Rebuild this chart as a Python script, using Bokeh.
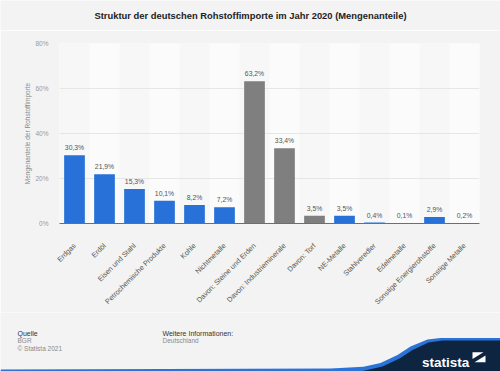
import math
from bokeh.plotting import figure
from bokeh.layouts import column
from bokeh.models import (FixedTicker, PrintfTickFormatter, FactorRange, Range1d,
                          ColumnDataSource)
from bokeh.transform import factor_cmap
from bokeh.core.properties import value
from bokeh.embed import file_html
from bokeh.resources import INLINE

# ---- data ----
categories = ["Erdgas", "Erdöl", "Eisen und Stahl", "Petrochemische Produkte", "Kohle",
              "Nichtmetalle", "Davon: Steine und Erden", "Davon: Industrieminerale",
              "Davon: Torf", "NE-Metalle", "Stahlveredler", "Edelmetalle",
              "Sonstige Energierohstoffe", "Sonstige Metalle"]
shares = [30.3, 21.9, 15.3, 10.1, 8.2, 7.2, 63.2, 33.4, 3.5, 3.5, 0.4, 0.1, 2.9, 0.2]
groups = ["main", "main", "main", "main", "main", "main", "sub", "sub", "sub",
          "main", "main", "main", "main", "main"]
y_ticks = [0, 20, 40, 60, 80]

title_text = "Struktur der deutschen Rohstoffimporte im Jahr 2020 (Mengenanteile)"
y_label = "Mengenanteile der Rohstoffimporte"
source_head = "Quelle"
source_lines = ["BGR", "© Statista 2021"]
info_head = "Weitere Informationen:"
info_lines = ["Deutschland"]

FONT = "Liberation Sans"
BG = "#f3f3f3"
BLUE = "#2771d8"
GREY = "#7f7f7f"
NAVY = "#0d2541"
LOGO_BLUE = "#2a73d9"

W = 500
H_HEAD, H_MAIN, H_FOOT = 30, 282, 59


def deco_figure(h, y0):
    f = figure(width=W, height=h, x_range=Range1d(0, W), y_range=Range1d(y0 + h, y0),
               output_backend="svg", toolbar_location=None,
               x_axis_type=None, y_axis_type=None,
               min_border=0, min_border_left=0, min_border_right=0,
               min_border_top=0, min_border_bottom=0)
    f.frame_align = False
    f.background_fill_color = BG
    f.border_fill_color = BG
    f.outline_line_color = None
    f.xgrid.visible = False
    f.ygrid.visible = False
    return f


# ---- header ----
head = deco_figure(H_HEAD, 0)
head.text(x=[250], y=[15], text=[title_text], text_align="center",
          text_baseline="middle", text_font=value(FONT), text_font_size="9.4px",
          text_font_style="bold", text_color="#222222")

# ---- main chart ----
labels = [("%.1f" % v).replace(".", ",") + "%" for v in shares]
src = ColumnDataSource(dict(cat=categories, val=shares, grp=groups, lab=labels))

p = figure(x_range=FactorRange(*categories), y_range=Range1d(0, 80),
           width=W, height=H_MAIN, output_backend="svg", toolbar_location=None,
           min_border_left=59, min_border_right=21, min_border_top=13,
           min_border_bottom=80)
p.frame_align = False
p.background_fill_color = "#f7f7f7"
p.border_fill_color = BG
p.outline_line_color = None
p.x_range.range_padding = 0

band_cats = categories[1::2]
band_src = ColumnDataSource(dict(cat=band_cats, top=[80] * len(band_cats)))
p.vbar(x="cat", top="top", width=1.0, source=band_src, fill_color="#fbfbfb",
       line_color=None, level="underlay")

p.vbar(x="cat", top="val", width=0.69, source=src, line_color=None,
       fill_color=factor_cmap("grp", palette=[BLUE, GREY], factors=["main", "sub"]))

p.text(x="cat", y="val", text="lab", source=src, text_align="center",
       text_baseline="bottom", y_offset=-4, text_font=value(FONT),
       text_font_size="6.8px", text_color="#555555")

p.xgrid.grid_line_color = None
p.ygrid.grid_line_color = "#e6e6e6"
p.ygrid.grid_line_width = 1
p.ygrid.ticker = FixedTicker(ticks=y_ticks)

ya = p.yaxis[0]
ya.ticker = FixedTicker(ticks=y_ticks)
ya.formatter = PrintfTickFormatter(format="%d%%")
ya.axis_line_color = None
ya.major_tick_line_color = None
ya.minor_tick_line_color = None
ya.major_tick_out = 0
ya.major_tick_in = 0
ya.minor_tick_out = 0
ya.major_label_text_font = FONT
ya.major_label_text_font_size = "6.5px"
ya.major_label_text_color = "#9a9a9a"
ya.major_label_standoff = 11
ya.axis_label = y_label
ya.axis_label_text_font = FONT
ya.axis_label_text_font_size = "6.5px"
ya.axis_label_text_font_style = "normal"
ya.axis_label_text_color = "#8a8a8a"
ya.axis_label_standoff = 1

xa = p.xaxis[0]
xa.axis_line_color = "#6e6e6e"
xa.axis_line_width = 1
xa.major_tick_line_color = None
xa.minor_tick_line_color = None
xa.major_tick_out = 0
xa.major_tick_in = 0
xa.minor_tick_out = 0
xa.major_label_orientation = math.pi / 4
xa.major_label_text_font = FONT
xa.major_label_text_font_size = "7.2px"
xa.major_label_text_color = "#555555"
xa.major_label_standoff = 21

# ---- footer ----
y0 = H_HEAD + H_MAIN
foot = deco_figure(H_FOOT, y0)
foot.text(x=[17, 162], y=[332.7, 332.7], text=[source_head, info_head],
          text_baseline="middle", text_font=value(FONT), text_font_size="7px",
          text_color="#333333")
foot.text(x=[17] * len(source_lines) + [162] * len(info_lines),
          y=[339.6, 347.7][:len(source_lines)] + [339.6][:len(info_lines)],
          text=source_lines + info_lines, text_baseline="middle",
          text_font=value(FONT), text_font_size="6.5px", text_color="#8a8a8a")

# statista logo band
foot.patch(x=[0, 330, 363, 380, 397, 410, 427, 440, W, W, 0],
           y=[369, 368, 366.3, 362.5, 354.5, 346, 339, 337.5, 337.5, 371, 371],
           fill_color=LOGO_BLUE, line_color=None)
foot.patch(x=[360, 382, 399, 412, 428, 442, W, W],
           y=[371, 366, 358, 349.5, 342, 340, 340, 371],
           fill_color=NAVY, line_color=None)
foot.text(x=[421.5], y=[361.7], text=["statista"], text_baseline="alphabetic",
          text_font=value(FONT), text_font_size="13.5px", text_font_style="bold",
          text_color="#ffffff")
foot.patch(x=[472, 483, 472], y=[351.7, 351.7, 358.5], fill_color="#ffffff",
           line_color=None)
foot.patch(x=[485, 474, 485], y=[361.7, 361.7, 355], fill_color="#ffffff",
           line_color=None)

layout = column(head, p, foot, spacing=0)

out = open("out.html", "w")
out.write(file_html(layout, INLINE))
out.close()
